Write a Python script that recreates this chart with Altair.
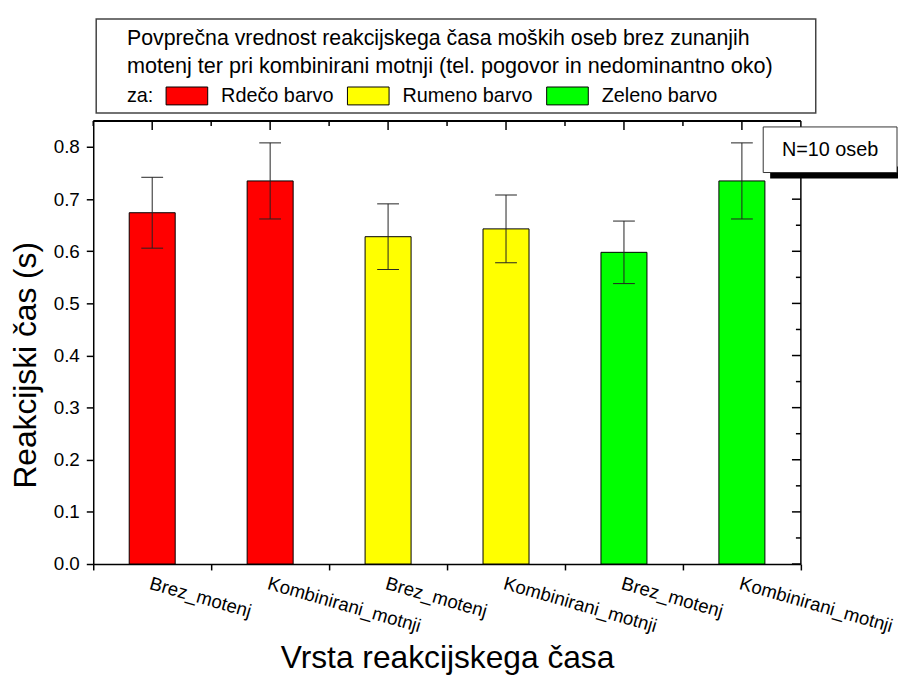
import altair as alt
import pandas as pd

# ---- data ----
GROUPS = ["Rdečo barvo", "Rdečo barvo", "Rumeno barvo", "Rumeno barvo", "Zeleno barvo", "Zeleno barvo"]
CONDITIONS = ["Brez_motenj", "Kombinirani_motnji", "Brez_motenj", "Kombinirani_motnji", "Brez_motenj", "Kombinirani_motnji"]
MEANS = [0.674, 0.735, 0.628, 0.643, 0.598, 0.735]
ERRS = [0.068, 0.073, 0.063, 0.065, 0.060, 0.073]
COLOR_DOMAIN = ["Rdečo barvo", "Rumeno barvo", "Zeleno barvo"]
COLOR_RANGE = ["#ff0000", "#ffff00", "#00ff00"]
Y_TICKS = [0.0, 0.05, 0.1, 0.15, 0.2, 0.25, 0.3, 0.35, 0.4, 0.45, 0.5, 0.55, 0.6, 0.65, 0.7, 0.75, 0.8]
LEGEND_LINES = [
    "Povprečna vrednost reakcijskega časa moških oseb brez zunanjih",
    "motenj ter pri kombinirani motnji (tel. pogovor in nedominantno oko)",
]
LEGEND_PREFIX = "za:"
NOTE = "N=10 oseb"
X_TITLE = "Vrsta reakcijskega časa"
Y_TITLE = "Reakcijski čas (s)"

FONT = "Liberation Sans"
W, H = 714, 447

df = pd.DataFrame({
    "key": [f"{i}|{c}" for i, c in enumerate(CONDITIONS)],
    "group": GROUPS,
    "mean": MEANS,
    "err": ERRS,
})
df["lo"] = df["mean"] - df["err"]
df["hi"] = df["mean"] + df["err"]

ticks_df = pd.DataFrame({"v": Y_TICKS})
ticks_df["major"] = [round(v * 100) % 10 == 0 for v in Y_TICKS]

xscale = alt.Scale(paddingInner=0, paddingOuter=0)
yscale = alt.Scale(domain=[0, 0.85], nice=False, zero=True)
minor_test = "round(datum.value*100) % 10 != 0"

base = alt.Chart(df)

bars = base.mark_bar(stroke="black", strokeWidth=1, width=alt.RelativeBandSize(0.39)).encode(
    x=alt.X("key:N", sort=None, scale=xscale, axis=alt.Axis(
        title=X_TITLE, titleFont=FONT, titleFontSize=32, titleFontWeight="normal", titleColor="black",
        titleY=104, titleBaseline="alphabetic",
        labelExpr="split(datum.label, '|')[1]", labelAngle=16, labelAlign="left", labelBaseline="top",
        labelPadding=4, labelFont=FONT, labelFontSize=18.8, labelColor="black", labelLimit=300,
        tickBand="extent", tickSize=6, tickColor="black", tickWidth=1.5,
        domainColor="black", domainWidth=1.5, grid=False)),
    y=alt.Y("mean:Q", scale=yscale, axis=alt.Axis(
        title=Y_TITLE, titleFont=FONT, titleFontSize=32, titleFontWeight="normal", titleColor="black",
        titleX=-68, titleY=246, titleAngle=-90, titleAlign="center", titleBaseline="middle",
        values=Y_TICKS,
        labelExpr="round(datum.value*100) % 10 == 0 ? format(datum.value, '.1f') : ''",
        labelFont=FONT, labelFontSize=19, labelColor="black", labelPadding=7,
        tickSize={"condition": {"test": minor_test, "value": 4}, "value": 7},
        tickColor="black", tickWidth=1.5, domainColor="black", domainWidth=1.5, grid=False)),
    color=alt.Color("group:N", scale=alt.Scale(domain=COLOR_DOMAIN, range=COLOR_RANGE), legend=alt.Legend(
        orient="none", legendX=73, legendY=-47, direction="horizontal", title=None,
        symbolType="M-1,-0.43H1V0.43H-1Z", symbolSize=1764, symbolStrokeColor="black",
        symbolStrokeWidth=1, symbolOpacity=1, labelFont=FONT, labelFontSize=20, labelColor="black",
        labelOffset=13, columnPadding=11)),
)

err_rule = base.mark_rule(color="#222", strokeWidth=1).encode(
    x=alt.X("key:N", sort=None),
    y=alt.Y("lo:Q"),
    y2="hi:Q",
)
cap_hi = base.mark_tick(color="#222", thickness=1, size=22, opacity=1).encode(
    x=alt.X("key:N", sort=None),
    y=alt.Y("hi:Q"),
)
cap_lo = base.mark_tick(color="#222", thickness=1, size=22, opacity=1).encode(
    x=alt.X("key:N", sort=None),
    y=alt.Y("lo:Q"),
)

# frame: top and right lines with inward ticks
one = pd.DataFrame({"a": [0]})
top_line = alt.Chart(one).mark_rule(color="black", strokeWidth=2).encode(
    x=alt.value(0), x2=alt.value(W), y=alt.value(0))
right_line = alt.Chart(one).mark_rule(color="black", strokeWidth=1.5).encode(
    x=alt.value(W), y=alt.value(0), y2=alt.value(H))
top_center_ticks = base.mark_rule(color="black", strokeWidth=1.5).encode(
    x=alt.X("key:N", sort=None), y=alt.value(0), y2=alt.value(9))
top_edge_ticks = base.mark_rule(color="black", strokeWidth=1.5).encode(
    x=alt.X("key:N", sort=None, bandPosition=0), y=alt.value(0), y2=alt.value(5))
right_major = alt.Chart(ticks_df).transform_filter("datum.major").mark_rule(color="black", strokeWidth=1.5).encode(
    y=alt.Y("v:Q"), x=alt.value(W - 9), x2=alt.value(W))
right_minor = alt.Chart(ticks_df).transform_filter("!datum.major").mark_rule(color="black", strokeWidth=1.5).encode(
    y=alt.Y("v:Q"), x=alt.value(W - 5), x2=alt.value(W))

# legend box
legend_box = alt.Chart(one).mark_rect(fill="white", stroke="#444", strokeWidth=1.5).encode(
    x=alt.value(3), x2=alt.value(729), y=alt.value(-103), y2=alt.value(-8))
line1 = alt.Chart(pd.DataFrame({"t": [LEGEND_LINES[0]]})).mark_text(
    align="left", baseline="middle", font=FONT, fontSize=21.5, color="black").encode(
    text="t:N", x=alt.value(34), y=alt.value(-83))
line2 = alt.Chart(pd.DataFrame({"t": [LEGEND_LINES[1]]})).mark_text(
    align="left", baseline="middle", font=FONT, fontSize=21.8, color="black").encode(
    text="t:N", x=alt.value(34), y=alt.value(-55))
prefix = alt.Chart(pd.DataFrame({"t": [LEGEND_PREFIX]})).mark_text(
    align="left", baseline="middle", font=FONT, fontSize=20, color="black").encode(
    text="t:N", x=alt.value(34), y=alt.value(-25))

# note box
note_shadow = alt.Chart(one).mark_rect(fill="black").encode(
    x=alt.value(683), x2=alt.value(812), y=alt.value(46), y2=alt.value(58))
note_box = alt.Chart(one).mark_rect(fill="white", stroke="#333", strokeWidth=1).encode(
    x=alt.value(676), x2=alt.value(811), y=alt.value(6), y2=alt.value(52))
note_text = alt.Chart(pd.DataFrame({"t": [NOTE]})).mark_text(
    align="center", baseline="middle", font=FONT, fontSize=20, color="black").encode(
    text="t:N", x=alt.value(743.5), y=alt.value(29))

chart = alt.layer(
    bars, err_rule, cap_hi, cap_lo,
    top_line, right_line, top_center_ticks, top_edge_ticks, right_major, right_minor,
    legend_box, line1, line2, prefix,
    note_shadow, note_box, note_text,
).properties(
    width=W, height=H,
    autosize="none",
    padding={"left": 86, "top": 111, "right": 98, "bottom": 111},
    background="white",
).configure_view(stroke=None)

chart.save("out.html", embed_options={"renderer": "svg", "actions": False})
